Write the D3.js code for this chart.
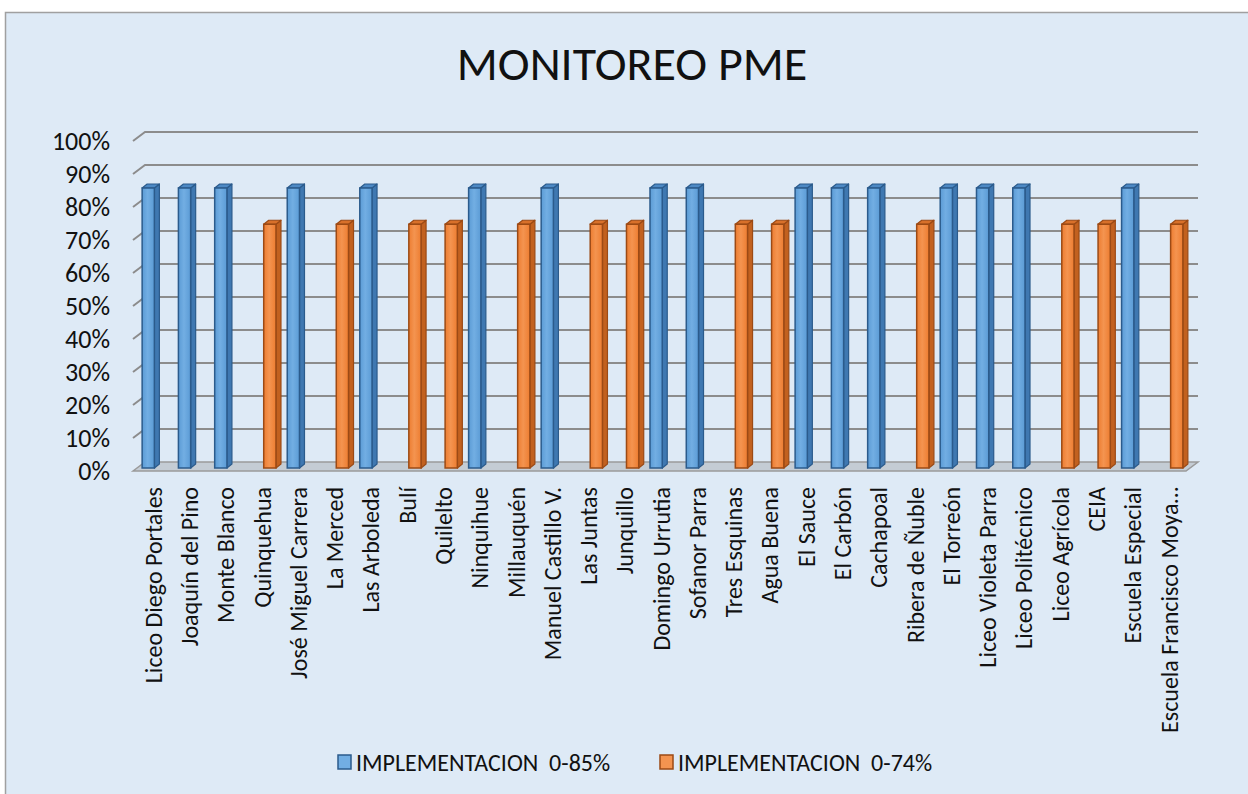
<!DOCTYPE html>
<html>
<head>
<meta charset="utf-8">
<script src="https://cdn.jsdelivr.net/npm/d3@7"></script>
<style>
body { margin: 0; background: #ffffff; }
svg text { font-family: Carlito, "Liberation Sans Narrow", "Open Sans", sans-serif; fill: #111; }
</style>
</head>
<body>
<div id="chart"></div>
<script>
var categories = ["Liceo Diego Portales", "Joaquín del Pino", "Monte Blanco", "Quinquehua",
  "José Miguel Carrera", "La Merced", "Las Arboleda", "Bulí", "Quilelto", "Ninquihue",
  "Millauquén", "Manuel Castillo V.", "Las Juntas", "Junquillo", "Domingo Urrutia",
  "Sofanor Parra", "Tres Esquinas", "Agua Buena", "El Sauce", "El Carbón", "Cachapoal",
  "Ribera de Ñuble", "El Torreón", "Liceo Violeta Parra", "Liceo Politécnico",
  "Liceo Agrícola", "CEIA", "Escuela Especial", "Escuela Francisco Moya…"];

// null = no bar for that school in the series
var impl85 = [0.85, 0.85, 0.85, null, 0.85, null, 0.85, null, null, 0.85,
  null, 0.85, null, null, 0.85, 0.85, null, null, 0.85, 0.85, 0.85,
  null, 0.85, 0.85, 0.85, null, null, 0.85, null];
var impl74 = [null, null, null, 0.74, null, 0.74, null, 0.74, 0.74, null,
  0.74, null, 0.74, 0.74, null, null, 0.74, 0.74, null, null, null,
  0.74, null, null, null, 0.74, 0.74, null, 0.74];

var seriesNames = ["IMPLEMENTACION  0-85%", "IMPLEMENTACION  0-74%"];
var yTicks = [0, 0.1, 0.2, 0.3, 0.4, 0.5, 0.6, 0.7, 0.8, 0.9, 1];

var W = 1248, H = 794;
var depthX = 12, depthY = -9;   // back wall offset
var barDX = 5, barDY = -4;      // bar side/top depth

var palette = [
  {face: "#5b9bd5", light: "#72aee3", side: "#3f78b1", top: "#4d89c4", stroke: "#2b5b8c"},
  {face: "#ed7d31", light: "#f49450", side: "#c2611f", top: "#d8702a", stroke: "#9c4a15"}
];

var svg = d3.select("#chart").append("svg")
  .attr("width", W)
  .attr("height", H);

// chart area
svg.append("rect")
  .attr("x", 5.5).attr("y", 12.5)
  .attr("width", W - 4).attr("height", H)
  .attr("fill", "#deeaf6")
  .attr("stroke", "#a0a0a0")
  .attr("stroke-width", 1.5);

svg.append("text")
  .attr("x", 632).attr("y", 80)
  .attr("text-anchor", "middle")
  .style("font-size", "48px")
  .text("MONITOREO PME");

var x = d3.scaleBand().domain(categories).range([135, 1187]);
var sub = d3.scaleBand().domain(seriesNames).range([-11, 14]).paddingInner(0.04);
var yFront = d3.scaleLinear().domain([0, 1]).range([471, 141]);
var yBar = d3.scaleLinear().domain([0, 1]).range([468, 138.6]);

var x0 = 133, x1 = 1186;

// floor
svg.append("polygon")
  .attr("points", [[x0, yFront(0)], [x0 + depthX, yFront(0) + depthY],
    [x1 + depthX, yFront(0) + depthY], [x1, yFront(0)]].join(" "))
  .attr("fill", "#c4ccd4")
  .attr("stroke", "#9a9a9a")
  .attr("stroke-width", 1.5);

// gridlines: left wall diagonal + back wall
svg.selectAll("path.grid")
  .data(yTicks.slice(1))
  .enter()
  .append("path")
  .attr("class", "grid")
  .attr("d", function(d) {
    return "M" + x0 + "," + yFront(d) + "L" + (x0 + depthX) + "," + (yFront(d) + depthY) +
      "L" + (x1 + depthX) + "," + (yFront(d) + depthY);
  })
  .attr("fill", "none")
  .attr("stroke", "#8c8c8c")
  .attr("stroke-width", 2);

// y axis labels
var yAxis = svg.append("g")
  .attr("transform", "translate(110,0)")
  .call(d3.axisLeft(yFront).tickValues(yTicks).tickFormat(d3.format(".0%")).tickSize(0).tickPadding(0));
yAxis.select(".domain").remove();
yAxis.selectAll("text")
  .style("font-size", "26px")
  .style("font-family", null)
  .attr("fill", "#111");

// category labels
var xAxis = svg.append("g")
  .attr("transform", "translate(0,471)")
  .call(d3.axisBottom(x).tickSize(0));
xAxis.select(".domain").remove();
xAxis.selectAll("text")
  .attr("transform", "rotate(-90)")
  .attr("x", -16)
  .attr("y", 0)
  .attr("dy", "0.36em")
  .style("text-anchor", "end")
  .style("font-size", "24px")
  .style("font-family", null)
  .attr("fill", "#111");

// gradients for bar faces
var defs = svg.append("defs");
palette.forEach(function(p, k) {
  var g = defs.append("linearGradient").attr("id", "face" + k)
    .attr("x1", "0").attr("x2", "1").attr("y1", "0").attr("y2", "0");
  g.append("stop").attr("offset", "0").attr("stop-color", p.face);
  g.append("stop").attr("offset", "0.45").attr("stop-color", p.light);
  g.append("stop").attr("offset", "1").attr("stop-color", p.face);
});

// bars
[impl85, impl74].forEach(function(values, k) {
  var p = palette[k];
  var rows = categories.map(function(c, i) { return {cat: c, v: values[i]}; })
    .filter(function(d) { return d.v != null; });
  var w = sub.bandwidth();

  var bars = svg.selectAll("g.bar" + k)
    .data(rows)
    .enter()
    .append("g")
    .attr("class", "bar" + k);

  function left(d) { return x(d.cat) + x.bandwidth() / 2 + sub(seriesNames[k]); }

  bars.append("polygon")
    .attr("points", function(d) {
      var l = left(d), t = yBar(d.v), b = yBar(0);
      return [[l + w, t], [l + w + barDX, t + barDY], [l + w + barDX, b + barDY], [l + w, b]].join(" ");
    })
    .attr("fill", p.side)
    .attr("stroke", p.stroke)
    .attr("stroke-width", 1.2)
    .attr("stroke-linejoin", "round");

  bars.append("polygon")
    .attr("points", function(d) {
      var l = left(d), t = yBar(d.v);
      return [[l, t], [l + barDX, t + barDY], [l + w + barDX, t + barDY], [l + w, t]].join(" ");
    })
    .attr("fill", p.top)
    .attr("stroke", p.stroke)
    .attr("stroke-width", 1.2)
    .attr("stroke-linejoin", "round");

  bars.append("rect")
    .attr("x", left)
    .attr("y", function(d) { return yBar(d.v); })
    .attr("width", w)
    .attr("height", function(d) { return yBar(0) - yBar(d.v); })
    .attr("fill", "url(#face" + k + ")")
    .attr("stroke", p.stroke)
    .attr("stroke-width", 1.5);
});

// legend
var legendX = [338, 660];
var legend = svg.selectAll("g.legend")
  .data(seriesNames)
  .enter()
  .append("g")
  .attr("class", "legend")
  .attr("transform", function(d, i) { return "translate(" + legendX[i] + ",755)"; });

legend.append("rect")
  .attr("width", 13).attr("height", 14)
  .attr("fill", function(d, i) { return palette[i].light; })
  .attr("stroke", function(d, i) { return palette[i].stroke; })
  .attr("stroke-width", 1.5);

legend.append("text")
  .attr("x", 18)
  .attr("y", 7)
  .attr("dy", "0.36em")
  .attr("xml:space", "preserve")
  .style("white-space", "pre")
  .style("font-size", "24px")
  .text(function(d) { return d; });
</script>
</body>
</html>
